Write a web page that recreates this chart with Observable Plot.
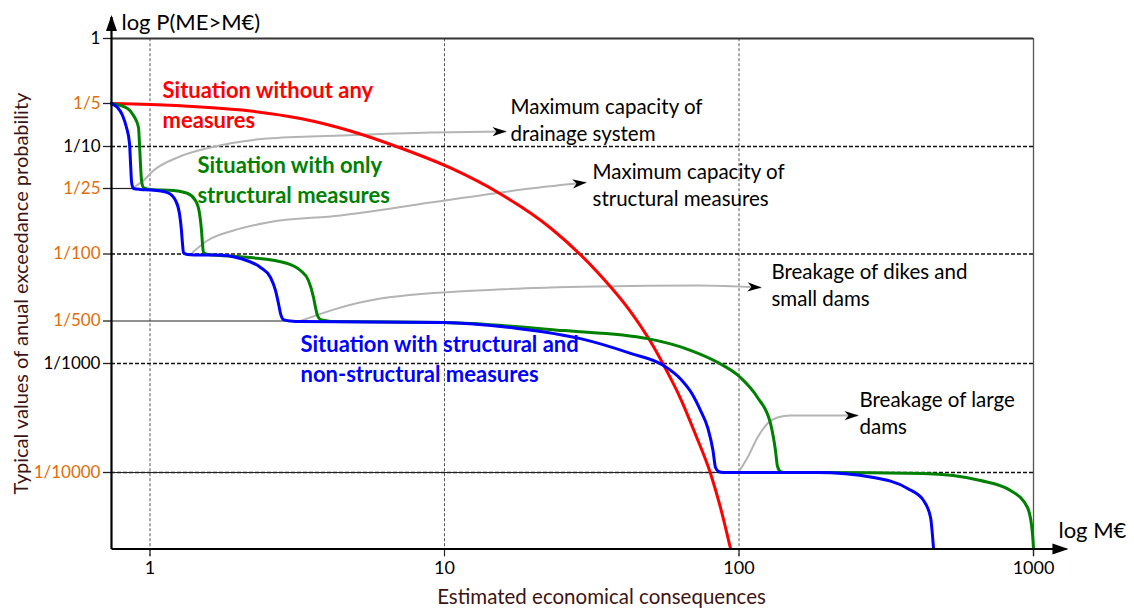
<!DOCTYPE html>
<html>
<head>
<meta charset="utf-8">
<script src="https://cdn.jsdelivr.net/npm/d3@7"></script>
<script src="https://cdn.jsdelivr.net/npm/@observablehq/plot@0.6"></script>
<style>
  body { margin: 0; background: #fff; }
  svg { display: block; }
</style>
</head>
<body>
<div id="chart"></div>
<script>
// Exceedance probability P(ME > M€) against economic consequences (M€)

// Axis ticks
const xTicks = [1, 10, 100, 1000];
const yTicks = [1, 1/5, 1/10, 1/25, 1/100, 1/500, 1/1000, 1/10000];
const yTickLabels = ["1", "1/5", "1/10", "1/25", "1/100", "1/500", "1/1000", "1/10000"];
const typicalValues = [1/5, 1/25, 1/100, 1/500, 1/10000];
const dashedLevels = [1/10, 1/100, 1/1000, 1/10000];

// Probability levels that carry the schematic (uneven) vertical axis
const yLevels = [1, 1/5, 1/10, 1/25, 1/100, 1/500, 1/1000, 1/10000, 2e-5];

// Situation without any measures
const noneM = [0.74, 1.004, 1.484, 2.194, 3.243, 4.796, 7.091, 10.48, 15.5, 22.91, 33.86, 42.82, 50.06, 56.27, 63.31, 71.18, 80.04, 86.5, 93.56];
const noneP = [0.2, 0.1968, 0.189, 0.1772, 0.157, 0.1284, 0.0968, 0.0626, 0.0356, 0.01734, 0.00597, 0.002512, 0.001431, 0.0009, 0.000477, 0.000223, 0.0000979, 0.0000479, 0.0000202];

// Situation with only structural measures
const structM = [0.74, 0.839, 0.879, 0.914, 0.921, 0.928, 0.936, 0.95, 1.004, 1.202, 1.341, 1.427, 1.473, 1.496, 1.507, 1.519, 1.579, 1.735, 2.194, 2.93, 3.243, 3.452, 3.592, 3.648, 3.705, 3.793, 4.006, 4.2, 9.923, 25.35, 48.91, 68.45, 84.5, 101.2, 115.6, 127.9, 133.0, 135.1, 138.4, 143.9, 184.8, 423.2, 660.7, 835.5, 954.1, 992.2, 1000];
const structP = [0.2, 0.1845, 0.1648, 0.1358, 0.105, 0.069, 0.0476, 0.0409, 0.0392, 0.0383, 0.036, 0.031, 0.0236, 0.01644, 0.0125, 0.0103, 0.00988, 0.00965, 0.00919, 0.00796, 0.00673, 0.00529, 0.00352, 0.00276, 0.00228, 0.00207, 0.002, 0.00198, 0.00195, 0.00171, 0.0015, 0.00124, 0.00102, 0.000744, 0.000488, 0.000282, 0.000159, 0.000114, 0.000102, 0.0001, 0.0001, 0.0000979, 0.0000845, 0.0000685, 0.0000479, 0.0000277, 0.0000202];

// Situation with structural and non-structural measures
const bothM = [0.74, 0.776, 0.807, 0.832, 0.852, 0.859, 0.866, 0.879, 0.928, 1.004, 1.147, 1.221, 1.259, 1.279, 1.289, 1.299, 1.341, 1.484, 1.695, 2.029, 2.373, 2.566, 2.668, 2.731, 2.775, 2.84, 3.0, 3.243, 9.923, 17.7, 28.96, 42.82, 55.41, 63.31, 69.5, 74.0, 78.48, 81.6, 83.23, 85.2, 88.6, 93.6, 184.8, 286.2, 373.5, 423.2, 447.1, 457.6];
const bothP = [0.2, 0.1875, 0.1648, 0.1358, 0.105, 0.069, 0.0456, 0.04, 0.0392, 0.0388, 0.0367, 0.031, 0.0236, 0.01644, 0.0125, 0.0103, 0.00988, 0.00976, 0.00976, 0.00897, 0.00723, 0.00569, 0.00416, 0.00304, 0.00239, 0.00207, 0.002, 0.00198, 0.00195, 0.00177, 0.0015, 0.00118, 0.00096, 0.000721, 0.00052, 0.000371, 0.000253, 0.000159, 0.000111, 0.0001021, 0.0001, 0.0001, 0.0001, 0.00009, 0.0000714, 0.0000555, 0.0000388, 0.0000202];

// Annotation leaders
const drainageM = [0.879, 0.95, 1.028, 1.24, 1.605, 2.506, 4.436, 8.965, 16.11];
const drainageP = [0.0409, 0.0476, 0.0592, 0.0787, 0.0978, 0.1137, 0.1194, 0.1253, 0.1273];
const structuralCapM = [1.394, 1.567, 1.92, 2.506, 4.436, 8.965, 19.59, 30.12];
const structuralCapP = [0.0103, 0.0133, 0.01644, 0.01947, 0.0226, 0.0297, 0.04, 0.0456];
const dikesM = [3.243, 4.2, 6.064, 15.14, 33.07, 72.3, 118.3];
const dikesP = [0.002, 0.00263, 0.00343, 0.00426, 0.00458, 0.00469, 0.00447];
const largeDamsM = [99.6, 106.9, 115.6, 125.0, 135.1, 149.6, 252.6];
const largeDamsP = [0.0001, 0.000137, 0.000209, 0.000282, 0.00032, 0.000333, 0.000333];

const notes = ["Maximum capacity of\ndrainage system", "Maximum capacity of\nstructural measures", "Breakage of dikes and\nsmall dams", "Breakage of large\ndams"];
const noteM = [16.75, 31.81, 128.9, 256.6];
const noteP = [0.2101, 0.0646, 0.00741, 0.00052];

const seriesNames = ["Situation without any\nmeasures", "Situation with only\nstructural measures", "Situation with structural and\nnon-structural measures"];
const seriesLabelM = [1.103, 1.449, 3.243];
const seriesLabelP = [0.328, 0.077, 0.001528];
const seriesColors = ["#ff0000", "#008000", "#0000ff"];

// Helpers
const rows = (M, P) => M.map((m, i) => ({m, p: P[i]}));
const named = (name, M, P) => M.map((m, i) => ({name, m, p: P[i]}));

const xAxisAt = 0.74;     // where the vertical axis sits
const yMin = 2e-5;        // bottom of the probability axis
const yBelow = 1.7e-5;    // tick stubs below the horizontal axis
const orange = "#e36c09";
const brown = "#3d1414";
const font = "Lato, 'Open Sans', sans-serif";

function headMarker(shape) {
  return () => {
    const m = d3.create("svg:marker")
      .attr("viewBox", "-18 -8 22 16")
      .attr("markerWidth", 22)
      .attr("markerHeight", 16)
      .attr("markerUnits", "userSpaceOnUse")
      .attr("orient", "auto")
      .attr("overflow", "visible");
    m.append("path").attr("d", shape).attr("fill", "black").attr("stroke", "none");
    return m.node();
  };
}
const pointer = headMarker("M1,0L-13,-4.6L-9,0L-13,4.6Z");
const axisHead = headMarker("M2,0L-14,-5.5L-14,5.5Z");

const leaders = [
  ...named("drainage", drainageM, drainageP),
  ...named("structural", structuralCapM, structuralCapP),
  ...named("dikes", dikesM, dikesP),
  ...named("large", largeDamsM, largeDamsP)
];

const chart = Plot.plot({
  width: 1134,
  height: 609,
  margin: 0,
  style: {fontFamily: font, background: "#fff", overflow: "visible"},
  x: {type: "log", domain: [1, 1000], range: [149.5, 1033], axis: null},
  y: {type: "log", domain: yLevels, range: [38, 103, 146, 188, 253.5, 320.5, 363, 472, 548.5], axis: null},
  marks: [
    // grid
    Plot.ruleX([1, 10, 100], {y1: yBelow, y2: 1, stroke: "#555", strokeWidth: 1, strokeDasharray: "3,2"}),
    Plot.ruleX([1000], {y1: yBelow, y2: 1, stroke: "#555", strokeWidth: 1.3}),
    Plot.ruleX(xTicks, {y1: yBelow, y2: yMin, stroke: "#222", strokeWidth: 1.2}),
    Plot.ruleY(dashedLevels, {x1: xAxisAt, x2: 1000, stroke: "#111", strokeWidth: 1.3, strokeDasharray: "4,2"}),
    Plot.link([{p: 1/25, to: 0.886}, {p: 1/500, to: 3.0}, {p: 1/10000, to: 100}],
      {x1: xAxisAt, x2: "to", y1: "p", y2: "p", stroke: "#222", strokeWidth: 1.2}),
    Plot.ruleY([1], {x1: xAxisAt, x2: 1000, stroke: "#333", strokeWidth: 2}),
    Plot.ruleY(yTicks, {x1: 0.695, x2: xAxisAt, stroke: "#222", strokeWidth: 1.3}),

    // annotation leaders
    Plot.line(leaders, {x: "m", y: "p", z: "name", stroke: "#b4b4b4", strokeWidth: 2, curve: "monotone-x", markerEnd: pointer}),

    // curves
    Plot.line(rows(noneM, noneP), {x: "m", y: "p", stroke: seriesColors[0], strokeWidth: 3, curve: "monotone-x"}),
    Plot.line(rows(structM, structP), {x: "m", y: "p", stroke: seriesColors[1], strokeWidth: 3, curve: "monotone-x"}),
    Plot.line(rows(bothM, bothP), {x: "m", y: "p", stroke: seriesColors[2], strokeWidth: 3, curve: "monotone-x"}),

    // axes with arrowheads
    Plot.link([0], {x1: xAxisAt, y1: yMin, x2: 1294, y2: yMin, stroke: "black", strokeWidth: 2.2, markerEnd: axisHead}),
    Plot.link([0], {x1: xAxisAt, y1: yMin, x2: xAxisAt, y2: 1.7, stroke: "black", strokeWidth: 2.2, markerEnd: axisHead}),

    // tick labels
    Plot.text(yTicks, {x: xAxisAt, y: (d) => d, text: (d, i) => yTickLabels[i], dx: -11, textAnchor: "end",
      fill: (d) => typicalValues.includes(d) ? orange : "black", fontSize: 17}),
    Plot.text(xTicks, {x: (d) => d, y: yMin, text: (d) => String(d), dy: 19, fontSize: 18, fill: "black"}),

    // series labels
    Plot.text(seriesNames, {x: (d, i) => seriesLabelM[i], y: (d, i) => seriesLabelP[i], text: (d) => d, dy: -7,
      fill: (d, i) => seriesColors[i], fontWeight: "bold", fontSize: 22, textAnchor: "start", lineAnchor: "top", lineHeight: 30 / 22}),

    // annotation texts
    Plot.text(notes, {x: (d, i) => noteM[i], y: (d, i) => noteP[i], text: (d) => d, dy: -6.5, fill: "black",
      fontSize: 20.5, textAnchor: "start", lineAnchor: "top", lineHeight: 27 / 20.5}),

    // axis titles
    Plot.text(["log P(ME>M€)"], {frameAnchor: "top-left", dx: 121, dy: 22, textAnchor: "start", lineAnchor: "middle", fontSize: 22, fill: "black"}),
    Plot.text(["log M€"], {frameAnchor: "top-left", dx: 1058, dy: 530, textAnchor: "start", lineAnchor: "middle", fontSize: 22, fill: "black"}),
    Plot.text(["Typical values of anual exceedance probability"], {frameAnchor: "top-left", dx: 21, dy: 293, rotate: -90,
      textAnchor: "middle", lineAnchor: "middle", fontSize: 20, fill: brown}),
    Plot.text(["Estimated economical consequences"], {frameAnchor: "top-left", dx: 601, dy: 597, textAnchor: "middle",
      lineAnchor: "middle", fontSize: 20.5, fill: brown})
  ]
});

document.getElementById("chart").appendChild(chart);
</script>
</body>
</html>
